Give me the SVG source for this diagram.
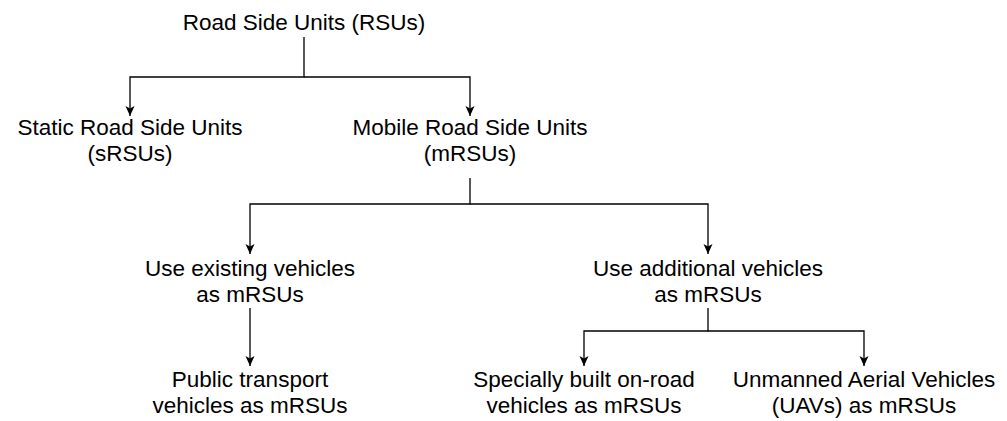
<svg xmlns="http://www.w3.org/2000/svg" width="1007" height="421" viewBox="0 0 1007 421">
<style>
  text { font-family: "Liberation Sans", Arial, sans-serif; font-size: 22.5px; fill: #000; text-anchor: middle; }
  .c { fill: none; stroke: #000; stroke-width: 1.3; }
</style>
<defs>
  <marker id="arr" markerUnits="userSpaceOnUse" markerWidth="12" markerHeight="12" viewBox="-11 -6 12 12" refX="0" refY="0" orient="auto">
    <path d="M0,0 L-10,-4.5 L-7.5,0 L-10,4.5 Z" fill="#000"/>
  </marker>
</defs>
<rect width="1007" height="421" fill="#fff"/>
<g id="connectors">
  <path class="c" d="M304,37 V77 H130 V116" marker-end="url(#arr)"/>
  <path class="c" d="M304,77 H470 V116" marker-end="url(#arr)"/>
  <path class="c" d="M470,178 V204 H250 V254" marker-end="url(#arr)"/>
  <path class="c" d="M470,204 H708 V254" marker-end="url(#arr)"/>
  <path class="c" d="M250,308 V366" marker-end="url(#arr)"/>
  <path class="c" d="M708,308 V331 H584 V366" marker-end="url(#arr)"/>
  <path class="c" d="M708,331 H864 V366" marker-end="url(#arr)"/>
</g>
<g id="rsu"><text x="304" y="30">Road Side Units (RSUs)</text></g>
<g id="srsu"><text x="130" y="135">Static Road Side Units</text><text x="130" y="161">(sRSUs)</text></g>
<g id="mrsu"><text x="470" y="135">Mobile Road Side Units</text><text x="470" y="161">(mRSUs)</text></g>
<g id="existing"><text x="250" y="276">Use existing vehicles</text><text x="250" y="302">as mRSUs</text></g>
<g id="additional"><text x="708" y="276">Use additional vehicles</text><text x="708" y="302">as mRSUs</text></g>
<g id="public"><text x="250" y="387">Public transport</text><text x="250" y="413">vehicles as mRSUs</text></g>
<g id="special"><text x="584" y="387">Specially built on-road</text><text x="584" y="413">vehicles as mRSUs</text></g>
<g id="uav"><text x="864" y="387">Unmanned Aerial Vehicles</text><text x="864" y="413">(UAVs) as mRSUs</text></g>
</svg>
